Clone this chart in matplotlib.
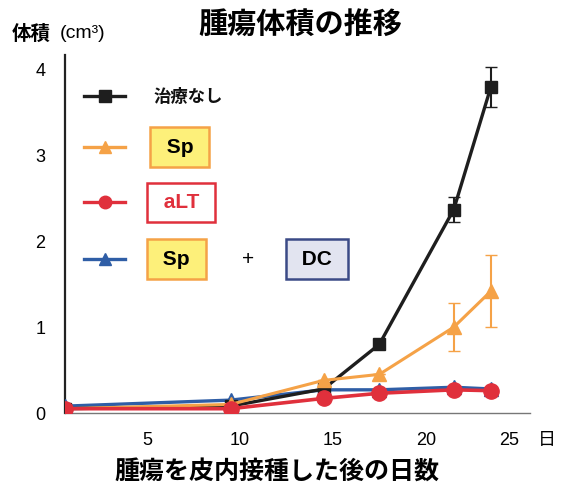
import matplotlib
matplotlib.use("Agg")
import matplotlib.pyplot as plt

plt.rcParams['font.family'] = ['Liberation Sans', 'Noto Sans CJK JP', 'DejaVu Sans']

# データ (腫瘍体積 cm3)
days = [0.6, 9.5, 14.5, 17.5, 21.5, 23.5]
untreated = [0.05, 0.08, 0.28, 0.80, 2.37, 3.80]
untreated_err = [0, 0, 0, 0, 0.15, 0.23]
sp = [0.05, 0.10, 0.38, 0.45, 1.00, 1.42]
sp_err = [0, 0, 0, 0, 0.28, 0.42]
alt = [0.05, 0.05, 0.17, 0.23, 0.27, 0.26]
sp_dc = [0.08, 0.15, 0.27, 0.27, 0.30, 0.28]

xticks = [5, 10, 15, 20, 25]
yticks = [0, 1, 2, 3, 4]

c_black = '#1e1e1e'
c_orange = '#f5a247'
c_red = '#e0303c'
c_blue = '#2f5ea6'

fig = plt.figure(figsize=(5.61, 4.94), dpi=100)
ax = fig.add_axes([65/561, 1 - 413/494, 465/561, 358/494])

ax.plot(days, sp_dc, color=c_blue, lw=2.4, marker='^', ms=10, zorder=3)
ax.errorbar(days, untreated, yerr=untreated_err, color=c_black, lw=2.4,
            marker='s', ms=9, capsize=4, elinewidth=1.5, zorder=4)
ax.errorbar(days, sp, yerr=sp_err, color=c_orange, lw=2.2,
            marker='^', ms=10, capsize=4, elinewidth=1.5, zorder=5)
ax.plot(days, alt, color=c_red, lw=2.6, marker='o', ms=11, zorder=6)

ax.set_xlim(0.6, 25.6)
ax.set_ylim(0, 4.17)
ax.set_xticks(xticks)
ax.set_yticks(yticks)
ax.tick_params(axis='both', length=0, labelsize=13)
ax.tick_params(axis='x', pad=14)
ax.tick_params(axis='y', pad=14)
ax.get_xticklabels()[-1].set_horizontalalignment('right')
for s in ['top', 'right']:
    ax.spines[s].set_visible(False)
ax.spines['left'].set_linewidth(1.6)
ax.spines['left'].set_color('#222222')
ax.spines['bottom'].set_linewidth(1.0)
ax.spines['bottom'].set_color('#777777')

# 凡例 (手描き風)
rows = [
    (c_black, 's', 0.885),
    (c_orange, '^', 0.742),
    (c_red, 'o', 0.588),
    (c_blue, '^', 0.430),
]
for col, mk, yy in rows:
    ax.plot([0.04, 0.13], [yy, yy], transform=ax.transAxes, color=col, lw=2.4,
            clip_on=False)
    ax.plot([0.085], [yy], transform=ax.transAxes, color=col, marker=mk, ms=9,
            clip_on=False)

ax.text(0.19, 0.885, '治療なし', transform=ax.transAxes, fontsize=12.5,
        fontweight='bold', va='center', ha='left', color='#111111')
box_sp = dict(boxstyle='square,pad=0.5', fc='#fdf07a', ec=c_orange, lw=1.8)
box_alt = dict(boxstyle='square,pad=0.5', fc='white', ec=c_red, lw=1.8)
box_dc = dict(boxstyle='square,pad=0.5', fc='#e2e4f0', ec='#3b4a86', lw=1.8)
ax.text(0.247, 0.742, ' Sp ', transform=ax.transAxes, fontsize=15,
        fontweight='bold', va='center', ha='center', bbox=box_sp)
ax.text(0.25, 0.588, ' aLT ', transform=ax.transAxes, fontsize=15,
        fontweight='bold', va='center', ha='center', color=c_red, bbox=box_alt)
ax.text(0.239, 0.430, ' Sp ', transform=ax.transAxes, fontsize=15,
        fontweight='bold', va='center', ha='center', bbox=box_sp)
ax.text(0.394, 0.430, '+', transform=ax.transAxes, fontsize=15,
        va='center', ha='center')
ax.text(0.542, 0.430, ' DC ', transform=ax.transAxes, fontsize=15,
        fontweight='bold', va='center', ha='center', bbox=box_dc)

fig.text(300/561, 1 - 25/494, '腫瘍体積の推移', fontsize=21, fontweight='bold',
         ha='center', va='center')
fig.text(12/561, 1 - 34/494, '体積', fontsize=14, fontweight='bold',
         ha='left', va='center')
fig.text(60/561, 1 - 34/494, '(cm³)', fontsize=14,
         ha='left', va='center')
fig.text(277/561, 1 - 472/494, '腫瘍を皮内接種した後の日数', fontsize=18,
         fontweight='bold', ha='center', va='center')
fig.text(547/561, 1 - 440/494, '日', fontsize=13, ha='center', va='center')

fig.savefig('out.png', dpi=100)
